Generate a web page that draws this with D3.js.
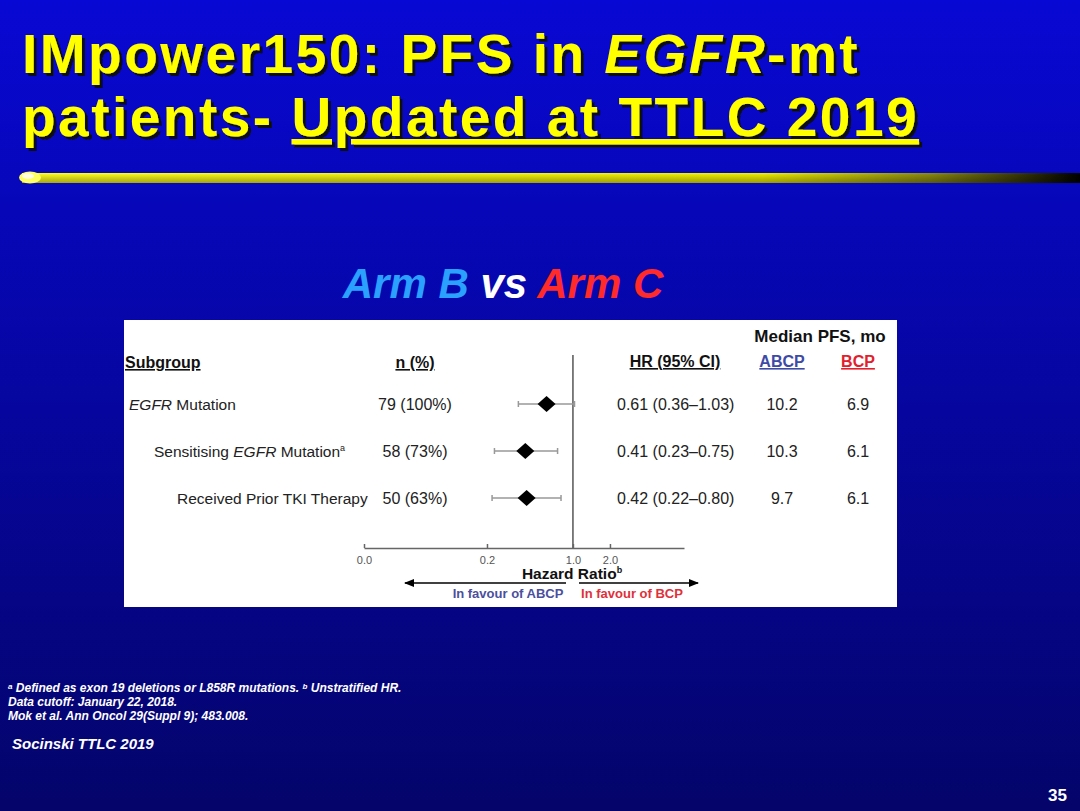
<!DOCTYPE html>
<html>
<head>
<meta charset="utf-8">
<script src="https://cdn.jsdelivr.net/npm/d3@7"></script>
<style>
  body { margin: 0; background: #000080; }
  svg { display: block; font-family: "Liberation Sans", Arial, sans-serif; }
</style>
</head>
<body>
<svg id="slide" width="1080" height="811"></svg>
<script>
// Data
const subgroups = ["EGFR Mutation", "Sensitising EGFR Mutation", "Received Prior TKI Therapy"];
const nPct = ["79 (100%)", "58 (73%)", "50 (63%)"];
const hr = [0.61, 0.41, 0.42];
const ciLow = [0.36, 0.23, 0.22];
const ciHigh = [1.03, 0.75, 0.80];
const medianABCP = ["10.2", "10.3", "9.7"];
const medianBCP = ["6.9", "6.1", "6.1"];
const tickValues = [0.02, 0.2, 1, 2];
const tickLabels = ["0.0", "0.2", "1.0", "2.0"];

const svg = d3.select("#slide");

//Background gradient + title bar gradient
const defs = svg.append("defs");
const bg = defs.append("linearGradient").attr("id", "bg")
    .attr("x1", 0).attr("y1", 0).attr("x2", 0).attr("y2", 1);
bg.append("stop").attr("offset", "0%").attr("stop-color", "#0808d4");
bg.append("stop").attr("offset", "100%").attr("stop-color", "#04046a");

const bar = defs.append("linearGradient").attr("id", "bar")
    .attr("x1", 0).attr("y1", 0).attr("x2", 1).attr("y2", 0);
bar.append("stop").attr("offset", "0%").attr("stop-color", "#ffff20");
bar.append("stop").attr("offset", "70%").attr("stop-color", "#f0f000");
bar.append("stop").attr("offset", "86%").attr("stop-color", "#8a8a10");
bar.append("stop").attr("offset", "100%").attr("stop-color", "#000000");

const barV = defs.append("linearGradient").attr("id", "barShade")
    .attr("x1", 0).attr("y1", 0).attr("x2", 0).attr("y2", 1);
barV.append("stop").attr("offset", "0%").attr("stop-color", "#000").attr("stop-opacity", 0);
barV.append("stop").attr("offset", "100%").attr("stop-color", "#000").attr("stop-opacity", 0.35);

//Shadow for the title
const shadow = defs.append("filter").attr("id", "shadow")
    .attr("x", "-5%").attr("y", "-20%").attr("width", "110%").attr("height", "140%");
shadow.append("feDropShadow").attr("dx", 3).attr("dy", 3).attr("stdDeviation", 0.6)
    .attr("flood-color", "#111").attr("flood-opacity", 0.95);

svg.append("rect").attr("width", 1080).attr("height", 811).attr("fill", "url(#bg)");

//Title
const titleLines = [
    [{t: "IMpower150: PFS in "}, {t: "EGFR", it: true}, {t: "-mt"}],
    [{t: "patients- "}, {t: "Updated at TTLC 2019", ul: true}]
];
const titleY = [73, 136];
titleLines.forEach(function (line, i) {
    const t = svg.append("text")
        .attr("x", 22).attr("y", titleY[i])
        .attr("fill", "#ffff00")
        .attr("filter", "url(#shadow)")
        .style("font-size", "55px")
        .style("font-weight", "bold")
        .style("letter-spacing", "2.5px");
    line.forEach(function (p) {
        t.append("tspan")
            .style("font-style", p.it ? "italic" : "normal")
            .style("text-decoration", p.ul ? "underline" : "none")
            .text(p.t);
    });
});

//Yellow rule under the title
svg.append("rect").attr("x", 22).attr("y", 173).attr("width", 1058).attr("height", 10)
    .attr("fill", "url(#bar)");
svg.append("rect").attr("x", 22).attr("y", 173).attr("width", 1058).attr("height", 10)
    .attr("fill", "url(#barShade)");
svg.append("ellipse").attr("cx", 30).attr("cy", 177.5).attr("rx", 11).attr("ry", 6)
    .attr("fill", "#ffff60");
svg.append("ellipse").attr("cx", 28).attr("cy", 176).attr("rx", 6).attr("ry", 3)
    .attr("fill", "#ffffe0");

//Subtitle
const sub = svg.append("text").attr("x", 503).attr("y", 298)
    .attr("text-anchor", "middle")
    .style("font-size", "42px").style("font-weight", "bold").style("font-style", "italic");
sub.append("tspan").attr("fill", "#2aa0ff").text("Arm B ");
sub.append("tspan").attr("fill", "#ffffff").text("vs ");
sub.append("tspan").attr("fill", "#ff2a2a").text("Arm C");

//White panel
svg.append("rect").attr("x", 124).attr("y", 320).attr("width", 773).attr("height", 287)
    .attr("fill", "#ffffff");

const panel = svg.append("g");

//Scales
const x = d3.scaleLog().domain([0.02, 8]).range([364, 684]);
const y = d3.scalePoint().domain(subgroups).range([404, 498]);

//Column headers
function header(xp, yp, txt, color, anchor, ul, size) {
    panel.append("text")
        .attr("x", xp).attr("y", yp)
        .attr("text-anchor", anchor)
        .attr("fill", color)
        .style("font-size", size || "16px").style("font-weight", "bold")
        .style("text-decoration", ul ? "underline" : "none")
        .text(txt);
}
header(820, 342, "Median PFS, mo", "#111", "middle", false, "17px");
header(125, 368, "Subgroup", "#111", "start", true);
header(415, 368, "n (%)", "#111", "middle", true);
header(675, 367, "HR (95% CI)", "#111", "middle", true);
header(782, 367, "ABCP", "#3d4aa6", "middle", true);
header(858, 367, "BCP", "#e2202c", "middle", true);

//Row labels
const labelX = [129, 154, 177];
subgroups.forEach(function (s, i) {
    const t = panel.append("text")
        .attr("x", labelX[i]).attr("y", y(s) + 6)
        .attr("fill", "#222")
        .style("font-size", "15.5px");
    if (i === 0) {
        t.append("tspan").style("font-style", "italic").text("EGFR");
        t.append("tspan").text(" Mutation");
    } else if (i === 1) {
        t.append("tspan").text("Sensitising ");
        t.append("tspan").style("font-style", "italic").text("EGFR");
        t.append("tspan").text(" Mutation");
        t.append("tspan").attr("dy", -6).style("font-size", "9px").text("a");
    } else {
        t.text(s);
    }
});

//Text columns
function column(values, xp, anchor) {
    panel.selectAll(null).data(values).enter().append("text")
        .attr("x", xp).attr("y", (d, i) => y(subgroups[i]) + 6)
        .attr("text-anchor", anchor)
        .attr("fill", "#222")
        .style("font-size", "16px")
        .text(d => d);
}
column(nPct, 415, "middle");
column(hr.map((d, i) => d.toFixed(2) + " (" + ciLow[i].toFixed(2) + "\u2013" + ciHigh[i].toFixed(2) + ")"), 617, "start");
column(medianABCP, 782, "middle");
column(medianBCP, 858, "middle");

//Reference line at HR = 1
panel.append("line")
    .attr("x1", x(1)).attr("x2", x(1))
    .attr("y1", 355).attr("y2", 548)
    .attr("stroke", "#555").attr("stroke-width", 1.5);

//Axis
const axis = panel.append("g")
    .attr("transform", "translate(0,548)")
    .call(d3.axisBottom(x).tickValues(tickValues)
        .tickFormat((d, i) => tickLabels[i])
        .tickSizeInner(-4).tickSizeOuter(0).tickPadding(8));
axis.select(".domain").attr("stroke", "#666").attr("stroke-width", 1.5);
axis.selectAll(".tick line").attr("stroke", "#666").attr("stroke-width", 1.5);
axis.selectAll(".tick text").attr("fill", "#555").style("font-size", "11px")
    .style("font-family", "'Liberation Sans', Arial, sans-serif");

//Confidence intervals
const ci = panel.selectAll(".ci").data(subgroups).enter().append("g").attr("class", "ci");
ci.append("line")
    .attr("x1", (d, i) => x(ciLow[i])).attr("x2", (d, i) => x(ciHigh[i]))
    .attr("y1", d => y(d)).attr("y2", d => y(d))
    .attr("stroke", "#999").attr("stroke-width", 1.5);
ci.append("line")
    .attr("x1", (d, i) => x(ciLow[i])).attr("x2", (d, i) => x(ciLow[i]))
    .attr("y1", d => y(d) - 3).attr("y2", d => y(d) + 3)
    .attr("stroke", "#999").attr("stroke-width", 1.5);
ci.append("line")
    .attr("x1", (d, i) => x(ciHigh[i])).attr("x2", (d, i) => x(ciHigh[i]))
    .attr("y1", d => y(d) - 3).attr("y2", d => y(d) + 3)
    .attr("stroke", "#999").attr("stroke-width", 1.5);

//Diamonds
panel.selectAll(".pt").data(subgroups).enter().append("path")
    .attr("class", "pt")
    .attr("transform", (d, i) => "translate(" + x(hr[i]) + "," + y(d) + ")")
    .attr("d", "M0,-8L9,0L0,8L-9,0Z")
    .attr("fill", "#000");

//Axis title
const ht = panel.append("text").attr("x", 572).attr("y", 579)
    .attr("text-anchor", "middle").attr("fill", "#111")
    .style("font-size", "15.5px").style("font-weight", "bold");
ht.append("tspan").text("Hazard Ratio");
ht.append("tspan").attr("dy", -6).style("font-size", "9px").text("b");

//Direction arrows
defs.append("marker").attr("id", "head")
    .attr("viewBox", "0 0 10 10").attr("refX", 9).attr("refY", 5)
    .attr("markerWidth", 7).attr("markerHeight", 7).attr("orient", "auto")
    .append("path").attr("d", "M0,1L10,5L0,9Z").attr("fill", "#000");
panel.append("line").attr("x1", 566).attr("x2", 405).attr("y1", 583).attr("y2", 583)
    .attr("stroke", "#000").attr("stroke-width", 1.5).attr("marker-end", "url(#head)");
panel.append("line").attr("x1", 579).attr("x2", 698).attr("y1", 583).attr("y2", 583)
    .attr("stroke", "#000").attr("stroke-width", 1.5).attr("marker-end", "url(#head)");

panel.append("text").attr("x", 508).attr("y", 598).attr("text-anchor", "middle")
    .attr("fill", "#4b4f9e").style("font-size", "13px").style("font-weight", "bold")
    .text("In favour of ABCP");
panel.append("text").attr("x", 632).attr("y", 598).attr("text-anchor", "middle")
    .attr("fill", "#e0303a").style("font-size", "13px").style("font-weight", "bold")
    .text("In favour of BCP");

//Footnotes
const notes = svg.append("g").attr("fill", "#ffffff")
    .style("font-size", "12px").style("font-weight", "bold").style("font-style", "italic");
const n1 = notes.append("text").attr("x", 8).attr("y", 692);
n1.append("tspan").attr("dy", -3).style("font-size", "8px").text("a");
n1.append("tspan").attr("dy", 3).text(" Defined as exon 19 deletions or L858R mutations. ");
n1.append("tspan").attr("dy", -3).style("font-size", "8px").text("b");
n1.append("tspan").attr("dy", 3).text(" Unstratified HR.");
notes.append("text").attr("x", 8).attr("y", 706).text("Data cutoff: January 22, 2018.");
notes.append("text").attr("x", 8).attr("y", 720).text("Mok et al. Ann Oncol 29(Suppl 9); 483.008.");

svg.append("text").attr("x", 12).attr("y", 749).attr("fill", "#ffffff")
    .style("font-size", "15px").style("font-weight", "bold").style("font-style", "italic")
    .text("Socinski TTLC 2019");

svg.append("text").attr("x", 1067).attr("y", 801).attr("text-anchor", "end")
    .attr("fill", "#ffffff").style("font-size", "17px").style("font-weight", "bold")
    .text("35");
</script>
</body>
</html>
